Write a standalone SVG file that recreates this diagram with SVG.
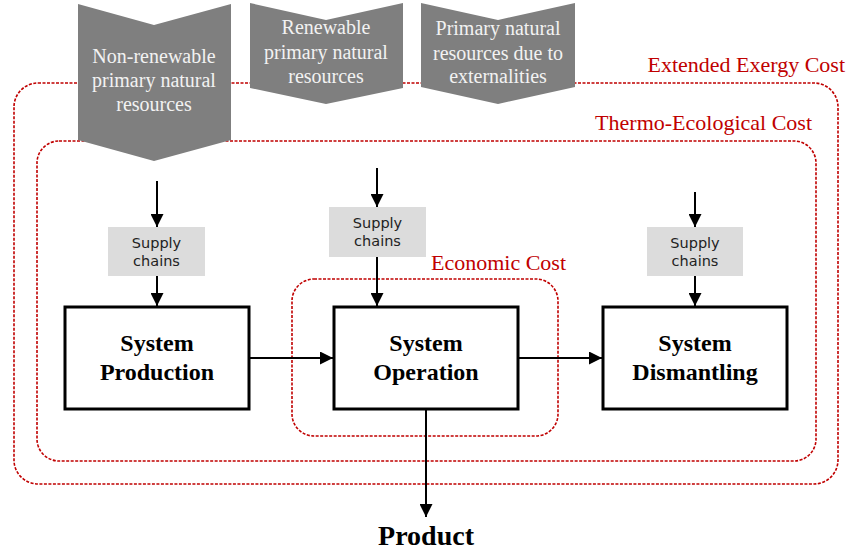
<svg xmlns="http://www.w3.org/2000/svg" width="849" height="553" viewBox="0 0 849 553">
<style>
.cost{fill:none;stroke:#c00000;stroke-width:1.6;stroke-dasharray:3 1.5}
.costlbl{font-family:"Liberation Serif",serif;font-size:22px;fill:#c00000}
.chev{fill:#7f7f7f}
.chevtxt{font-family:"Liberation Serif",serif;font-size:20px;fill:#f2f2f2;text-anchor:middle}
.sup{fill:#dcdcdc}
.suptxt{font-family:"DejaVu Sans",sans-serif;font-size:14.5px;fill:#222;text-anchor:middle}
.sys{fill:#fff;stroke:#000;stroke-width:3}
.systxt{font-family:"Liberation Serif",serif;font-size:24px;font-weight:bold;fill:#000;text-anchor:middle}
.conn{stroke:#000;stroke-width:2;fill:none;marker-end:url(#ah)}
</style>
<defs>
<marker id="ah" markerUnits="userSpaceOnUse" markerWidth="13" markerHeight="13" viewBox="0 0 13 13" refX="13" refY="6.5" orient="auto">
<path d="M0,0 L13,6.5 L0,13 Z" fill="#000"/>
</marker>
</defs>
<rect width="849" height="553" fill="#fff"/>
<g id="extended-exergy-cost">
<rect class="cost" x="14" y="83" width="824" height="401" rx="24" ry="24"/>
<text class="costlbl" x="845" y="72" text-anchor="end">Extended Exergy Cost</text>
</g>
<g id="thermo-ecological-cost">
<rect class="cost" x="37" y="141" width="779" height="320" rx="22" ry="22"/>
<text class="costlbl" x="812" y="130" text-anchor="end">Thermo-Ecological Cost</text>
</g>
<g id="economic-cost">
<rect class="cost" x="292" y="279" width="266" height="157" rx="22" ry="22"/>
<text class="costlbl" x="566" y="270" text-anchor="end">Economic Cost</text>
</g>
<g id="non-renewable">
<polygon class="chev" points="78,4 154,25 231,4 231,140 154,161 78,140"/>
<text class="chevtxt" x="154" y="63">Non-renewable</text>
<text class="chevtxt" x="154" y="87">primary natural</text>
<text class="chevtxt" x="154" y="111">resources</text>
</g>
<g id="renewable">
<polygon class="chev" points="250,3 326,20 403,3 403,88 326,104 250,88"/>
<text class="chevtxt" x="326" y="34">Renewable</text>
<text class="chevtxt" x="326" y="59">primary natural</text>
<text class="chevtxt" x="326" y="83">resources</text>
</g>
<g id="externalities">
<polygon class="chev" points="421,3 498,20 575,3 575,87 498,104 421,87"/>
<text class="chevtxt" x="498" y="35">Primary natural</text>
<text class="chevtxt" x="498" y="60">resources due to</text>
<text class="chevtxt" x="498" y="83">externalities</text>
</g>
<g id="supply1">
<rect class="sup" x="108" y="227" width="97" height="49"/>
<text class="suptxt" x="156.5" y="248">Supply</text>
<text class="suptxt" x="156.5" y="266">chains</text>
</g>
<g id="supply2">
<rect class="sup" x="329" y="207" width="97" height="50"/>
<text class="suptxt" x="377.5" y="228">Supply</text>
<text class="suptxt" x="377.5" y="246">chains</text>
</g>
<g id="supply3">
<rect class="sup" x="647" y="227" width="96" height="49"/>
<text class="suptxt" x="695" y="248">Supply</text>
<text class="suptxt" x="695" y="266">chains</text>
</g>
<g id="production">
<rect class="sys" x="65" y="307" width="184" height="102"/>
<text class="systxt" x="157" y="351">System</text>
<text class="systxt" x="157" y="380">Production</text>
</g>
<g id="operation">
<rect class="sys" x="334" y="307" width="184" height="102"/>
<text class="systxt" x="426" y="351">System</text>
<text class="systxt" x="426" y="380">Operation</text>
</g>
<g id="dismantling">
<rect class="sys" x="603" y="307" width="184" height="102"/>
<text class="systxt" x="695" y="351">System</text>
<text class="systxt" x="695" y="380">Dismantling</text>
</g>
<g id="product">
<text x="426" y="545" font-family="Liberation Serif,serif" font-size="28" font-weight="bold" text-anchor="middle">Product</text>
</g>
<g id="connectors">
<line class="conn" x1="157" y1="181" x2="157" y2="227"/>
<line class="conn" x1="377" y1="168" x2="377" y2="207"/>
<line class="conn" x1="695" y1="192" x2="695" y2="227"/>
<line class="conn" x1="157" y1="276" x2="157" y2="306"/>
<line class="conn" x1="377" y1="257" x2="377" y2="306"/>
<line class="conn" x1="695" y1="276" x2="695" y2="306"/>
<line class="conn" x1="250" y1="358" x2="333" y2="358"/>
<line class="conn" x1="519" y1="358" x2="602" y2="358"/>
<line class="conn" x1="426" y1="410" x2="426" y2="517"/>
</g>
</svg>
